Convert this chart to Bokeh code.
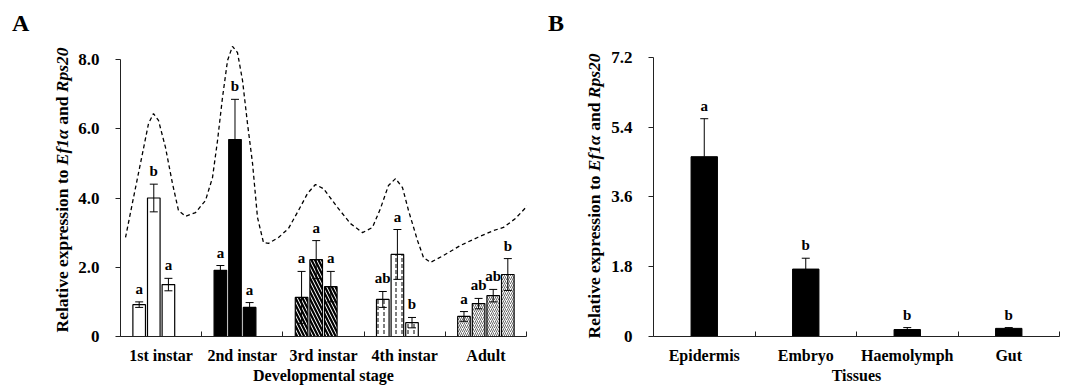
from bokeh.plotting import figure
from bokeh.layouts import row
from bokeh.models import (FixedTicker, CustomJSTickFormatter, Whisker, TeeHead,
                          ColumnDataSource, Div)
from bokeh.core.properties import value
from bokeh.embed import file_html
from bokeh.resources import INLINE

FONT = "Liberation Serif"

# ---------------- data: panel A ----------------
stages = ["1st instar", "2nd instar", "3rd instar", "4th instar", "Adult"]
stage_means = [
    [0.92, 4.00, 1.50],
    [1.91, 5.69, 0.84],
    [1.13, 2.22, 1.44],
    [1.07, 2.37, 0.40],
    [0.58, 0.95, 1.18, 1.79],
]
stage_errors = [
    [0.08, 0.40, 0.18],
    [0.14, 1.16, 0.14],
    [0.75, 0.55, 0.44],
    [0.23, 0.72, 0.15],
    [0.14, 0.15, 0.18, 0.46],
]
stage_letters = [
    ["a", "b", "a"],
    ["a", "b", "a"],
    ["a", "a", "a"],
    ["ab", "a", "b"],
    ["a", "ab", "ab", "b"],
]
# dashed trend curve
curve_x = [-0.438, -0.340, -0.229, -0.155, -0.094, -0.032, 0.054, 0.140, 0.214, 0.300,
           0.424, 0.547, 0.633, 0.695, 0.756, 0.818, 0.879, 0.941, 1.003, 1.064,
           1.126, 1.187, 1.261, 1.323, 1.446, 1.569, 1.692, 1.803, 1.901, 2.000,
           2.172, 2.333, 2.480, 2.603, 2.702, 2.800, 2.887, 2.973, 3.047, 3.158,
           3.232, 3.318, 3.478, 3.687, 3.897, 4.094, 4.217, 4.365, 4.549]
curve_y = [2.86, 4.01, 5.29, 6.15, 6.44, 6.24, 5.46, 4.42, 3.64, 3.47,
           3.58, 3.93, 4.59, 5.66, 6.90, 7.97, 8.38, 8.20, 7.39, 6.15,
           5.00, 3.44, 2.71, 2.69, 2.86, 3.12, 3.64, 4.13, 4.39, 4.27,
           3.73, 3.26, 3.00, 3.15, 3.70, 4.36, 4.56, 4.30, 3.64, 2.77,
           2.28, 2.14, 2.34, 2.63, 2.86, 3.06, 3.15, 3.41, 3.87]

# ---------------- data: panel B ----------------
tissues = ["Epidermis", "Embryo", "Haemolymph", "Gut"]
tissue_means = [4.64, 1.74, 0.18, 0.21]
tissue_errors = [0.98, 0.28, 0.05, 0.02]
tissue_letters = ["a", "b", "b", "b"]

ytitle_html = "Relative expression to <i>Ef1\u03b1</i> and <i>Rps20</i>"

# ---------------- styles ----------------
stage_styles = [
    dict(fill_color="white"),
    dict(fill_color="black"),
    dict(fill_color="white", hatch_pattern="left_diagonal_line", hatch_scale=7,
         hatch_weight=2.2, hatch_color="black"),
    dict(fill_color="white", hatch_pattern="vertical_dash", hatch_scale=6,
         hatch_weight=1.0, hatch_color="black"),
    dict(fill_color="white", hatch_pattern="right_diagonal_line", hatch_scale=4,
         hatch_weight=0.8, hatch_color="#444444"),
]
SPACING = 0.18
BAR_W = 0.155
AXIS_COLOR = "#222222"
H = 388
TOP = 38
BOTTOM = 52


def style_axes(p, xlabel):
    p.xgrid.visible = False
    p.ygrid.visible = False
    p.outline_line_color = None
    p.background_fill_color = "white"
    p.border_fill_color = "white"
    p.min_border_top = TOP
    p.min_border_bottom = BOTTOM
    for ax in (p.xaxis[0], p.yaxis[0]):
        ax.axis_line_color = AXIS_COLOR
        ax.axis_line_width = 1
        ax.major_label_text_font = FONT
        ax.major_label_text_font_style = "bold"
        ax.major_label_text_color = "black"
    xa = p.xaxis[0]
    xa.major_tick_line_color = None
    xa.minor_tick_in = 5
    xa.minor_tick_out = 0
    xa.minor_tick_line_color = AXIS_COLOR
    xa.major_label_text_font_size = "16px"
    xa.major_label_standoff = 4
    xa.axis_label = xlabel
    xa.axis_label_text_font = FONT
    xa.axis_label_text_font_style = "bold"
    xa.axis_label_text_font_size = "16px"
    xa.axis_label_text_color = "black"
    xa.axis_label_standoff = 0
    ya = p.yaxis[0]
    ya.major_tick_out = 5
    ya.major_tick_in = 0
    ya.major_tick_line_color = AXIS_COLOR
    ya.minor_tick_line_color = None
    ya.major_label_text_font_size = "17px"
    ya.major_label_standoff = 16
    ya.formatter = CustomJSTickFormatter(code="return tick == 0 ? '0' : tick.toFixed(1);")


def side_div(letter, width, letter_left, label_cx, label_cy):
    html = (
        f'<div style="position:relative;width:{width}px;height:{H}px;margin:0;padding:0;'
        f'font-family:\'{FONT}\';color:black;">'
        f'<div style="position:absolute;left:{letter_left}px;top:11px;font-weight:bold;'
        f'font-size:24px;line-height:1;">{letter}</div>'
        f'<div style="position:absolute;left:{label_cx - 9}px;top:{label_cy}px;'
        f'writing-mode:vertical-rl;transform:translateY(-50%) rotate(180deg);'
        f'white-space:nowrap;font-weight:bold;font-size:17.5px;line-height:18px;">'
        f'{ytitle_html}</div></div>'
    )
    return Div(text=html, width=width, height=H, margin=0)


# ---------------- panel A ----------------
pA = figure(width=474, height=H, x_range=(-0.5, 4.5), y_range=(0, 8.607),
            output_backend="svg", toolbar_location=None, margin=0)
pA.min_border_left = 46
pA.min_border_right = 22

for gi, (means, errs, letters) in enumerate(zip(stage_means, stage_errors, stage_letters)):
    xs = [gi + (k - 1.5) * SPACING for k in range(len(means))]
    src = ColumnDataSource(dict(x=xs, top=means,
                                upper=[m + e for m, e in zip(means, errs)],
                                lower=[m - e for m, e in zip(means, errs)],
                                txt=letters))
    pA.vbar(x="x", top="top", bottom=0, width=BAR_W, source=src,
            line_color="black", line_width=1.2, **stage_styles[gi])
    pA.add_layout(Whisker(base="x", upper="upper", lower="lower", source=src,
                          line_color="black", line_width=1, level="overlay",
                          upper_head=TeeHead(size=8, line_color="black", line_width=1),
                          lower_head=TeeHead(size=8, line_color="black", line_width=1)))
    pA.text(x="x", y="upper", text="txt", source=src, text_font=value(FONT),
            text_font_style="bold", text_font_size="15px", text_color="black",
            text_align="center", text_baseline="bottom", y_offset=-5)

pA.line(curve_x, curve_y, line_color="black", line_width=1.3, line_dash="4 3")

style_axes(pA, "Developmental stage")
pA.xaxis[0].ticker = FixedTicker(ticks=[0, 1, 2, 3, 4],
                                 minor_ticks=[-0.5, 0.5, 1.5, 2.5, 3.5, 4.5])
pA.xaxis[0].formatter = CustomJSTickFormatter(args=dict(labels=stages),
                                              code="return labels[Math.round(tick)] || '';")
pA.yaxis[0].ticker = FixedTicker(ticks=[0, 2, 4, 6, 8], minor_ticks=[])
pA.yaxis[0].bounds = (0, 8)

# ---------------- panel B ----------------
pB = figure(width=455, height=H, x_range=(-0.5, 3.5), y_range=(0, 7.69),
            output_backend="svg", toolbar_location=None, margin=0)
pB.min_border_left = 47
pB.min_border_right = 2

srcB = ColumnDataSource(dict(x=list(range(len(tissues))), top=tissue_means,
                             upper=[m + e for m, e in zip(tissue_means, tissue_errors)],
                             txt=tissue_letters))
pB.vbar(x="x", top="top", bottom=0, width=0.26, source=srcB,
        fill_color="black", line_color="black", line_width=1)
pB.add_layout(Whisker(base="x", upper="upper", lower="top", source=srcB,
                      line_color="black", line_width=1, level="overlay",
                      upper_head=TeeHead(size=8, line_color="black", line_width=1),
                      lower_head=None))
pB.text(x="x", y="upper", text="txt", source=srcB, text_font=value(FONT),
        text_font_style="bold", text_font_size="15px", text_color="black",
        text_align="center", text_baseline="bottom", y_offset=-5)

style_axes(pB, "Tissues")
pB.xaxis[0].ticker = FixedTicker(ticks=[0, 1, 2, 3],
                                 minor_ticks=[-0.5, 0.5, 1.5, 2.5, 3.5])
pB.xaxis[0].formatter = CustomJSTickFormatter(args=dict(labels=tissues),
                                              code="return labels[Math.round(tick)] || '';")
pB.yaxis[0].ticker = FixedTicker(ticks=[0, 1.8, 3.6, 5.4, 7.2], minor_ticks=[])
pB.yaxis[0].bounds = (0, 7.2)

divA = side_div("A", 74, 12, 62, 190)
divB = side_div("B", 58, 0, 46, 196)

layout = row(divA, pA, divB, pB, margin=0)
open("out.html", "w").write(file_html(layout, INLINE))
